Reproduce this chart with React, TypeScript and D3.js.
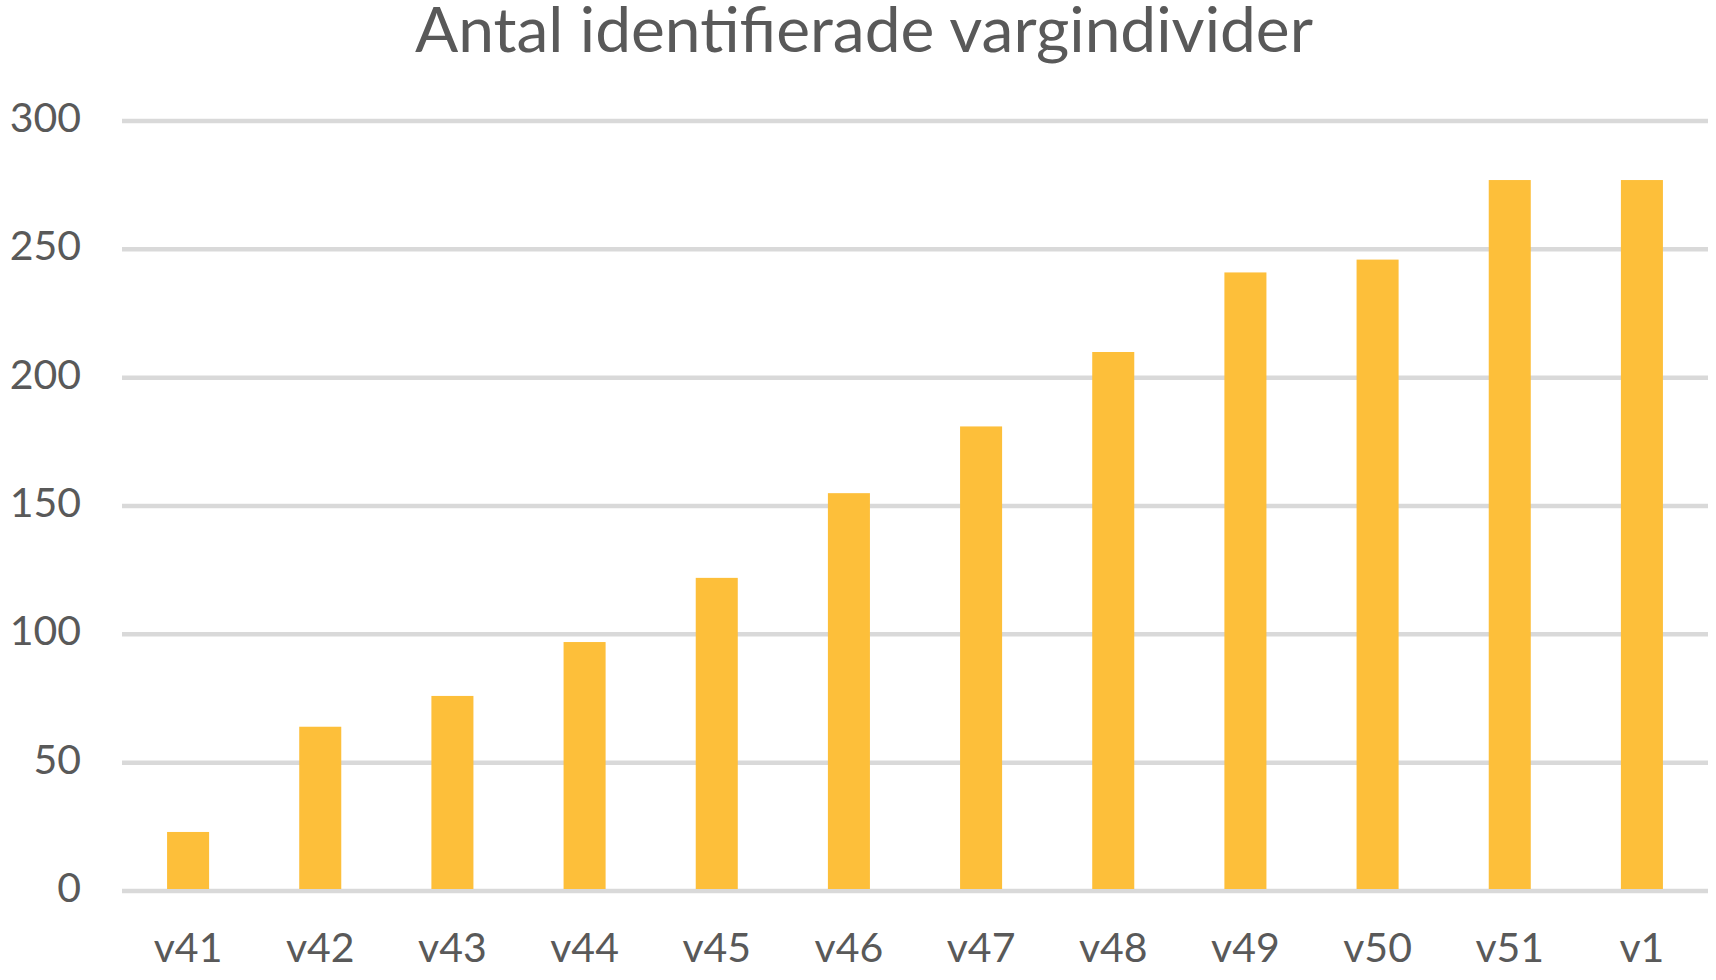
import * as d3 from 'd3'

// ── data ─────────────────────────────────────────────────────────────────────
const weeks  = ['v41', 'v42', 'v43', 'v44', 'v45', 'v46', 'v47', 'v48', 'v49', 'v50', 'v51', 'v1']
const wolves = [23, 64, 76, 97, 122, 155, 181, 210, 241, 246, 277, 277]
const yTicks = [0, 50, 100, 150, 200, 250, 300]
const title  = 'Antal identifierade vargindivider'

// ── constants ────────────────────────────────────────────────────────────────
const W = 1716
const H = 980
const M = { top: 121, right: 8, bottom: 89, left: 122 }
const CBAR  = '#FDBF3A'
const CTXT  = '#595959'
const CGRID = '#D9D9D9'
const FONT  = 'Lato, "Open Sans", sans-serif'

export default function App() {
  const iW = W - M.left - M.right
  const iH = H - M.top - M.bottom

  const x = d3.scaleBand<string>()
    .domain(weeks)
    .range([0, iW])
    .paddingInner(0.682)
    .paddingOuter(0.341)
  const y = d3.scaleLinear().domain([0, 300]).range([iH, 0])

  return (
    <svg width={W} height={H} style={{ position: 'absolute', left: 0, top: 0, background: '#fff' }}
      fontFamily={FONT}>
      <text x={864} y={52} textAnchor="middle" fill={CTXT} fontSize={61}
        textLength={898} lengthAdjust="spacingAndGlyphs">{title}</text>

      <g transform={`translate(${M.left},${M.top})`}>
        {/* grid + y labels */}
        {yTicks.map(t => (
          <g key={t}>
            <line x1={0} x2={iW} y1={y(t)} y2={y(t)} stroke={CGRID} strokeWidth={4.5} />
            <text x={-41} y={y(t) + 11} textAnchor="end" fill={CTXT} fontSize={41}>{t}</text>
          </g>
        ))}

        {/* bars */}
        {weeks.map((w, i) => (
          <rect key={w} x={x(w)} width={x.bandwidth()} y={y(wolves[i])}
            height={y(0) - y(wolves[i]) - 2} fill={CBAR} />
        ))}

        {/* x labels */}
        {weeks.map(w => (
          <text key={w} x={(x(w) ?? 0) + x.bandwidth() / 2} y={iH + 71}
            textAnchor="middle" fill={CTXT} fontSize={41}>{w}</text>
        ))}
      </g>
    </svg>
  )
}
